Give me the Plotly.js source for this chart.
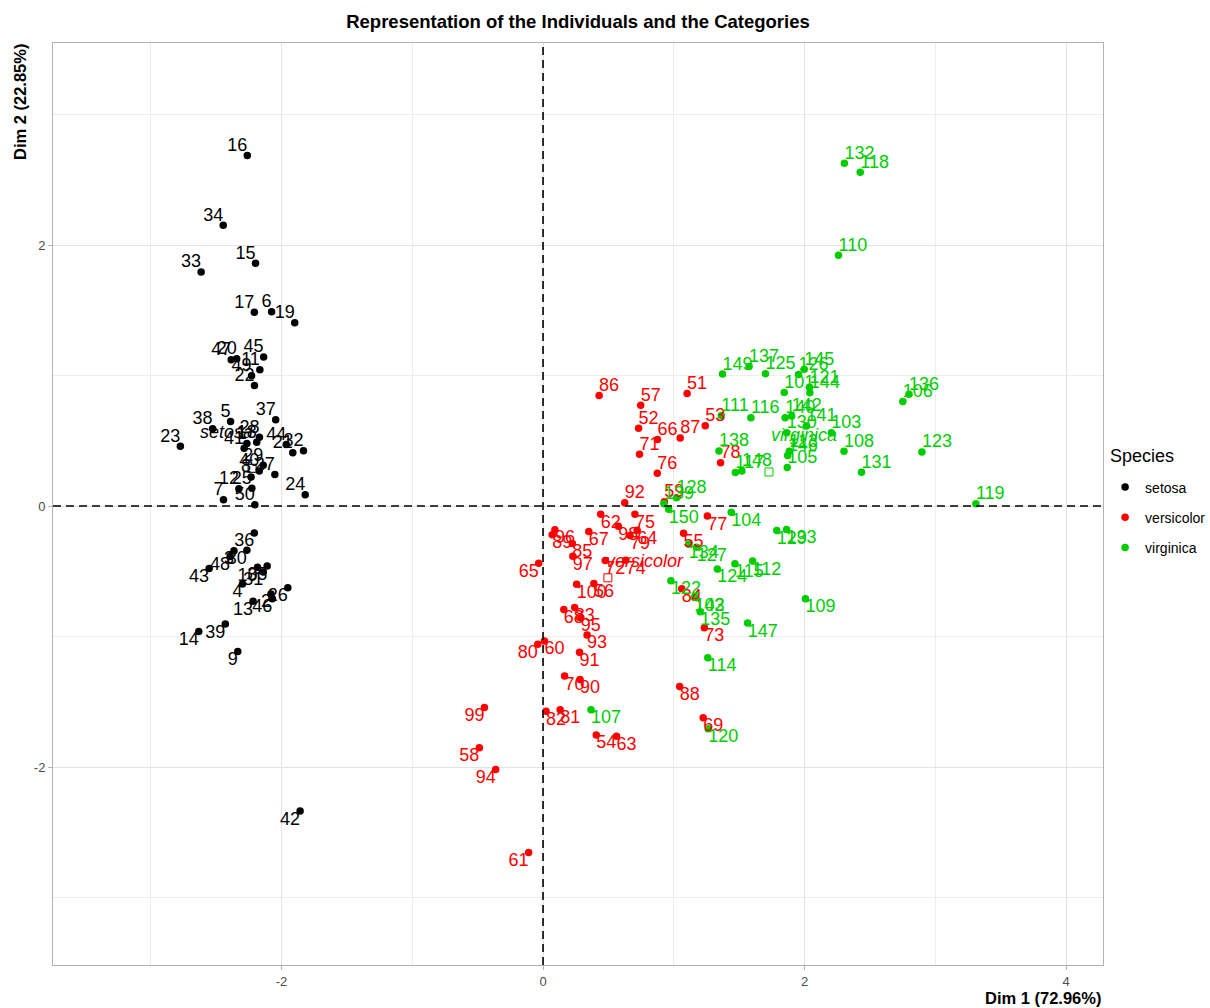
<!DOCTYPE html>
<html><head><meta charset="utf-8">
<script src="https://cdn.plot.ly/plotly-3.0.1.min.js"></script>
<style>html,body{margin:0;padding:0;background:#fff}#chart{width:1210px;height:1008px}</style>
</head><body><div id="chart"></div>
<script>
// PCA individual coordinates (Dim 1, Dim 2) for the 150 iris flowers, rows 1..150
const dim1 = [
 -2.265,-2.081,-2.364,-2.299,-2.390,-2.076,-2.444,-2.233,-2.335,-2.184,
 -2.166,-2.326,-2.218,-2.633,-2.199,-2.262,-2.208,-2.190,-1.899,-2.343,
 -1.914,-2.207,-2.774,-1.819,-2.227,-1.952,-2.051,-2.169,-2.140,-2.265,
 -2.140,-1.832,-2.615,-2.446,-2.110,-2.208,-2.045,-2.527,-2.430,-2.170,
 -2.286,-1.858,-2.554,-1.964,-2.137,-2.070,-2.385,-2.394,-2.229,-2.204,
  1.102, 0.731, 1.241, 0.407, 1.075, 0.389, 0.747,-0.487, 0.928, 0.011,
 -0.110, 0.441, 0.562, 0.720,-0.033, 0.875, 0.350, 0.159, 1.225, 0.165,
  0.738, 0.476, 1.234, 0.633, 0.703, 0.874, 1.257, 1.358, 0.665,-0.040,
  0.131, 0.023, 0.242, 1.061, 0.224, 0.429, 1.049, 1.045, 0.070, 0.283,
  0.279, 0.625, 0.337,-0.362, 0.289, 0.091, 0.228, 0.576,-0.448, 0.257,
  1.845, 1.158, 2.205, 1.440, 1.868, 2.752, 0.367, 2.302, 2.007, 2.260,
  1.364, 1.603, 1.884, 1.260, 1.468, 1.590, 1.471, 2.426, 3.311, 1.264,
  2.038, 0.978, 2.898, 1.333, 1.701, 1.954, 1.175, 1.021, 1.788, 1.864,
  2.436, 2.305, 1.863, 1.114, 1.202, 2.799, 1.576, 1.346, 0.925, 1.852,
  2.015, 1.902, 1.158, 2.041, 1.998, 1.871, 1.565, 1.521, 1.373, 0.961
];
const dim2 = [
  0.480,-0.674,-0.342,-0.597, 0.647, 1.489, 0.048, 0.223,-1.115,-0.469,
  1.044, 0.133,-0.729,-0.962, 1.860, 2.686, 1.484, 0.489, 1.405, 1.128,
  0.409, 0.924, 0.458, 0.086, 0.137,-0.626, 0.242, 0.527, 0.313,-0.338,
 -0.505, 0.424, 1.794, 2.151,-0.460,-0.206, 0.662, 0.592,-0.904, 0.269,
  0.442,-2.337,-0.479, 0.472, 1.142,-0.711, 1.120,-0.386, 0.998, 0.009,
  0.863, 0.595, 0.616,-1.754,-0.208,-0.593, 0.773,-1.852, 0.032,-1.034,
 -2.654,-0.063,-1.765,-0.186,-0.439, 0.509,-0.196,-0.792,-1.622,-1.303,
  0.397,-0.417,-0.933,-0.416,-0.063, 0.251,-0.077, 0.331,-0.226,-1.059,
 -1.562,-1.572,-0.777,-0.634,-0.288, 0.846, 0.522,-1.383,-0.220,-1.329,
 -1.120, 0.025,-0.988,-2.019,-0.856,-0.181,-0.385,-0.155,-1.544,-0.599,
  0.870,-0.699, 0.562,-0.047, 0.295, 0.800,-1.562, 0.420,-0.711, 1.921,
  0.693,-0.422, 0.419,-1.162,-0.442, 0.676, 0.256, 2.557, 0.018,-1.707,
  0.910,-0.572, 0.414,-0.482, 1.014, 1.008,-0.316, 0.064,-0.187, 0.562,
  0.259, 2.626,-0.179,-0.293,-0.811, 0.857, 1.069, 0.422, 0.017, 0.676,
  0.614, 0.690,-0.699, 0.868, 1.049, 0.387,-0.897, 0.269, 1.011,-0.024
];
// Species of each row (50 rows each, in order)
const speciesNames = ['setosa', 'versicolor', 'virginica'];
const speciesOfRow = [].concat(
  Array(50).fill('setosa'), Array(50).fill('versicolor'), Array(50).fill('virginica'));
// Category barycentres (supplementary qualitative variable)
const catDim1 = [-2.225, 0.496, 1.728];
const catDim2 = [0.289, -0.550, 0.261];

// X/Y axis ticks
const xTicks = [-2, 0, 2, 4];
const xTickText = ['-2', '0', '2', '4'];
const yTicks = [-2, 0, 2];
const yTickText = ['-2', '0', '2'];

const colors = { setosa: '#000000', versicolor: '#FF0000', virginica: '#00CD00' };
const FONT = 'Liberation Sans, Arial, sans-serif';

const traces = [];
const textTraces = [];
speciesNames.forEach(sp => {
  const idx = [];
  speciesOfRow.forEach((s, i) => { if (s === sp) idx.push(i); });
  const xs = idx.map(i => dim1[i]);
  const ys = idx.map(i => dim2[i]);
  traces.push({
    type: 'scatter', mode: 'markers', name: sp, legendgroup: sp,
    x: xs, y: ys,
    marker: { color: colors[sp], size: 7.5 },
    hoverinfo: 'skip'
  });
  textTraces.push({
    type: 'scatter', mode: 'text', showlegend: false,
    x: xs, y: ys,
    text: idx.map(i => String(i + 1)),
    // labels pushed away from the origin, quadrant by quadrant
    textposition: idx.map(i => (dim2[i] >= 0 ? 'top' : 'bottom') + ' ' + (dim1[i] >= 0 ? 'right' : 'left')),
    textfont: { family: FONT, size: 18, color: colors[sp] },
    hoverinfo: 'skip'
  });
});
const catTrace = {
  type: 'scatter', mode: 'markers', showlegend: false,
  x: catDim1, y: catDim2,
  marker: { symbol: 'square-open', size: 8, color: speciesNames.map(s => colors[s]), line: { width: 1 } },
  hoverinfo: 'skip'
};

const catShift = [[-26, 36], [37, 17], [35, 37]];
const annotations = speciesNames.map((sp, k) => ({
  x: catDim1[k], y: catDim2[k], xref: 'x', yref: 'y',
  text: '<i>' + sp + '</i>', showarrow: false,
  xanchor: 'center', yanchor: 'middle',
  xshift: catShift[k][0], yshift: catShift[k][1],
  font: { family: FONT, size: 18, color: colors[sp] }
}));
annotations.push({
  xref: 'paper', yref: 'paper', x: 1, y: 0, xanchor: 'right', yanchor: 'middle', yshift: -33,
  text: '<b>Dim 1 (72.96%)</b>', showarrow: false,
  font: { family: FONT, size: 16.5, color: '#000' }
});
annotations.push({
  xref: 'paper', yref: 'paper', x: 0, y: 1, xanchor: 'center', yanchor: 'top', xshift: -33, yshift: 1,
  text: '<b>Dim 2 (22.85%)</b>', textangle: -90, showarrow: false,
  font: { family: FONT, size: 16.5, color: '#000' }
});
// legend heading
annotations.push({
  xref: 'paper', yref: 'paper', x: 1, y: 1, xanchor: 'left', yanchor: 'middle',
  xshift: 5, yshift: -(456 - 43),
  text: 'Species', showarrow: false,
  font: { family: FONT, size: 18, color: '#000' }
});

const axisCommon = {
  showgrid: true, gridcolor: '#E4E4E4', gridwidth: 1,
  zeroline: false, showline: true, mirror: true, linecolor: '#B3B3B3', linewidth: 1,
  ticks: 'outside', ticklen: 4, tickcolor: '#B3B3B3', tickwidth: 1,
  tickfont: { family: FONT, size: 13, color: '#4D4D4D' },
  minor: { dtick: 1, tick0: 0, showgrid: true, gridcolor: '#EDEDED', gridwidth: 1 },
  fixedrange: true
};

const layout = {
  width: 1210, height: 1008,
  margin: { l: 53, r: 107, t: 43, b: 43, autoexpand: false },
  paper_bgcolor: '#fff', plot_bgcolor: '#fff',
  font: { family: FONT, color: '#000' },
  title: {
    text: '<b>Representation of the Individuals and the Categories</b>',
    font: { family: FONT, size: 18.5, color: '#000' },
    x: 578 / 1210, xanchor: 'center', y: 1 - 22 / 1008, yanchor: 'middle'
  },
  xaxis: Object.assign({}, axisCommon, { range: [-3.748, 4.283], tickvals: xTicks, ticktext: xTickText }),
  yaxis: Object.assign({}, axisCommon, { range: [-3.517, 3.548], tickvals: yTicks, ticktext: yTickText }),
  shapes: [
    { type: 'line', xref: 'x', yref: 'paper', x0: 0, x1: 0, y0: 0, y1: 1, line: { color: '#000', width: 1.6, dash: '8px,5px' } },
    { type: 'line', xref: 'paper', yref: 'y', x0: 0, x1: 1, y0: 0, y1: 0, line: { color: '#000', width: 1.6, dash: '8px,5px' } }
  ],
  annotations: annotations,
  legend: {
    x: 1.002, xanchor: 'left', y: (965 - 517.5) / 922, yanchor: 'middle',
    font: { family: FONT, size: 14, color: '#000' },
    tracegroupgap: 9, bgcolor: 'rgba(0,0,0,0)'
  },
  showlegend: true
};

Plotly.newPlot('chart', traces.concat([catTrace], textTraces), layout, { staticPlot: true, displayModeBar: false });
</script></body></html>
